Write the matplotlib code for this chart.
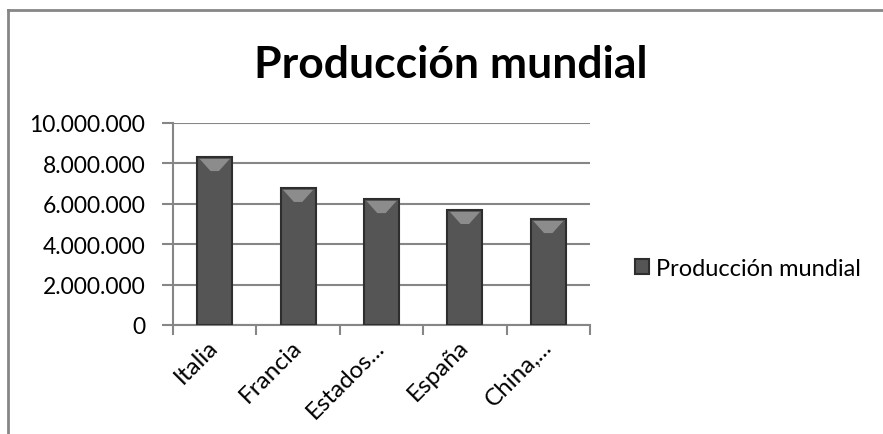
import matplotlib.pyplot as plt
from matplotlib.lines import Line2D
from matplotlib.patches import Polygon
from matplotlib.ticker import FuncFormatter
import numpy as np

plt.rcParams['font.family'] = ['Lato', 'DejaVu Sans']

# data
paises = ["Italia", "Francia", "Estados...", "España", "China,..."]
produccion = [8300000, 6770000, 6220000, 5680000, 5230000]
serie = "Producción mundial"

grey = "#868686"
bar_col = "#555555"

fig = plt.figure(figsize=(8.83, 4.35), dpi=100)

# chart frame: only left and top edges are visible in the crop
fx, fy = 8 / 883, 1 - 11 / 435
fig.add_artist(Line2D([fx, fx], [-0.05, fy], transform=fig.transFigure, color=grey, lw=2))
fig.add_artist(Line2D([fx, 1.05], [fy, fy], transform=fig.transFigure, color=grey, lw=2))

ax = fig.add_axes([173 / 883, 1 - 326 / 435, (590 - 173) / 883, (326 - 124) / 435])

x = np.arange(len(paises))
w = 0.42
bars = ax.bar(x, produccion, width=w, color=bar_col, edgecolor="#2e2e2e",
              lw=1.5, zorder=3, label=serie)

# bevel highlight on top of each bar
for xi, v in zip(x, produccion):
    top = v - 80000
    tri = Polygon([(xi - w / 2 + 0.03, top), (xi + w / 2 - 0.03, top),
                   (xi + 0.05, top - 600000), (xi - 0.05, top - 600000)],
                  closed=True, color="#8c8c8c", zorder=4, lw=0)
    ax.add_patch(tri)

ax.set_xlim(-0.5, len(paises) - 0.5)
ax.set_ylim(0, 10000000)
ax.set_yticks(np.arange(0, 10000001, 2000000))
ax.yaxis.set_major_formatter(FuncFormatter(lambda v, p: f"{int(v):,}".replace(",", ".")))
ax.grid(axis="y", color=grey, lw=1.5, zorder=0)
ax.set_xticks(x)
ax.set_xticklabels(paises, rotation=45, ha="right", va="center",
                   rotation_mode="anchor", fontsize=17.5)
ax.set_xticks(np.arange(-0.5, len(paises)), minor=True)
ax.tick_params(axis="x", which="major", length=0, pad=13)
ax.tick_params(axis="x", which="minor", length=7, color=grey, width=1.5, direction="out")
ax.tick_params(axis="y", length=8, color=grey, width=1.5, labelsize=16.5, pad=12)
for s in ["top", "right"]:
    ax.spines[s].set_visible(False)
for s in ["left", "bottom"]:
    ax.spines[s].set_color(grey)
    ax.spines[s].set_linewidth(1.5)

fig.text(451 / 883, 1 - 78 / 435, serie, ha="center", va="baseline",
         fontsize=32, fontweight="bold")

ax.legend(loc="center left", bbox_to_anchor=(1.057, 0.28), frameon=False,
          fontsize=17, handlelength=0.6, handleheight=0.6, handletextpad=0.3)

fig.savefig("out.png", dpi=100)
